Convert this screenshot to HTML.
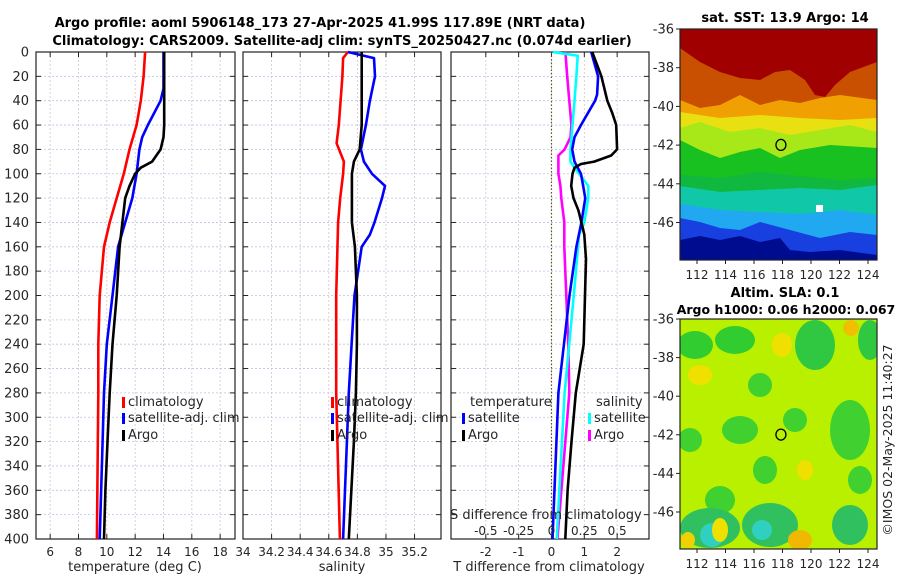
<!DOCTYPE html>
<html><head><meta charset="utf-8"><style>
body{margin:0;background:#fff;}
svg{display:block;font-family:"DejaVu Sans","Liberation Sans",sans-serif;}
</style></head><body>
<svg id="c" width="900" height="580" viewBox="0 0 900 580" xmlns="http://www.w3.org/2000/svg">
<text x="320" y="27" text-anchor="middle" font-weight="bold" font-size="13">Argo profile: aoml 5906148_173 27-Apr-2025 41.99S 117.89E (NRT data)</text>
<text x="342" y="45" text-anchor="middle" font-weight="bold" font-size="13">Climatology: CARS2009. Satellite-adj clim: synTS_20250427.nc (0.074d earlier)</text>
<g id="panels"></g>
<g id="maps"></g>
</svg>
<script>
// ---- data ----
const depthTicks=[0,20,40,60,80,100,120,140,160,180,200,220,240,260,280,300,320,340,360,380,400];
const tTicks=[6,8,10,12,14,16,18];
const sTicks=[34,34.2,34.4,34.6,34.8,35,35.2];
const sTickLabels=["34","34.2","34.4","34.6","34.8","35","35.2"];
const dTTicks=[-2,-1,0,1,2];
const dSTicks=[-0.5,-0.25,0,0.25,0.5];
const dSTickLabels=["-0.5","-0.25","0","0.25","0.5"];

const tClimDepth=[0,20,40,60,80,100,120,140,160,200,240,280,400];
const tClim=[12.7,12.6,12.4,12.1,11.6,11.2,10.7,10.2,9.8,9.5,9.4,9.4,9.3];
const tSatDepth=[0,30,40,60,70,80,100,120,140,160,200,240,280,320,400];
const tSat=[14.0,14.0,13.8,12.9,12.5,12.3,12.1,11.8,11.3,10.8,10.4,10.0,9.8,9.7,9.5];
const tArgoDepth=[0,20,60,70,80,90,95,100,110,120,140,160,200,240,280,320,360,400];
const tArgo=[14.05,14.05,14.05,14.0,13.8,13.2,12.4,12.0,11.6,11.3,11.1,10.9,10.7,10.4,10.2,10.05,9.9,9.8];

const sClimDepth=[0,5,20,40,60,75,90,100,120,140,200,280,400];
const sClim=[34.734,34.70,34.695,34.683,34.67,34.655,34.706,34.70,34.68,34.665,34.652,34.652,34.678];
const sSatDepth=[0,5,20,40,60,80,90,100,110,120,140,150,160,200,240,280,400];
const sSat=[34.734,34.916,34.923,34.888,34.86,34.825,34.846,34.902,34.993,34.972,34.92,34.888,34.83,34.78,34.76,34.74,34.70];
const sArgoDepth=[0,20,60,80,90,100,120,140,160,200,240,280,320,400];
const sArgo=[34.83,34.83,34.83,34.816,34.776,34.762,34.762,34.762,34.783,34.797,34.797,34.79,34.776,34.74];

const dTSatDepth=[0,20,35,40,60,70,80,90,100,120,140,160,200,280,400];
const dTSat=[1.21,1.42,1.39,1.33,0.9,0.7,0.63,0.7,0.9,1.03,0.91,0.76,0.55,0.21,0.03];
const dTArgoDepth=[0,20,40,50,60,80,85,90,92,95,100,110,120,130,140,150,170,200,240,280,320,360,400];
const dTArgo=[1.24,1.52,1.7,1.85,1.97,2.0,1.82,1.3,0.9,0.7,0.64,0.6,0.67,0.82,0.91,1.0,1.05,1.02,0.98,0.74,0.61,0.49,0.42];
const dSSatDepth=[0,3,20,40,60,80,90,95,110,120,140,150,200,280,400];
const dSSat=[0.01,0.2,0.19,0.175,0.16,0.145,0.145,0.175,0.28,0.28,0.25,0.21,0.17,0.1,0.04];
const dSArgoDepth=[0,20,40,60,70,80,85,90,100,110,120,140,160,200,240,280,400];
const dSArgo=[0.106,0.12,0.136,0.152,0.145,0.1,0.053,0.053,0.053,0.068,0.075,0.098,0.098,0.113,0.128,0.136,0.045];

// ---- helpers ----
const NS="http://www.w3.org/2000/svg";
const FS=13, TS=12;
function mk(tag,attrs,parent){const e=document.createElementNS(NS,tag);for(const k in attrs)e.setAttribute(k,attrs[k]);parent.appendChild(e);return e;}
const Y0=52,YB=539;
const y=d=>Y0+d*(YB-Y0)/400;
const P=document.getElementById('panels');

function panel(name,left,right,xmin,xmax){
  const g=mk('g',{},P);
  
  
  const sx=v=>left+(v-xmin)*(right-left)/(xmax-xmin);
  return {g,sx,left,right};
}
function gridAndFrame(p,ticks,labels,showY){
  for(const d of depthTicks){
    const gl=mk('line',{x1:p.left,x2:p.right,y1:y(d),y2:y(d),stroke:'#b8c4e8','stroke-width':0.8,'stroke-dasharray':'2,2'},p.g);
    
    
    mk('line',{x1:p.left,x2:p.left+5,y1:y(d),y2:y(d),stroke:'#222','stroke-width':1},p.g);
    mk('line',{x1:p.right-5,x2:p.right,y1:y(d),y2:y(d),stroke:'#222','stroke-width':1},p.g);
    if(showY){const t=mk('text',{x:p.left-7,y:y(d)+4.5,'text-anchor':'end','font-size':FS,fill:'#262626'},p.g);t.textContent=d;
      
      }
  }
  ticks.forEach((v,i)=>{
    const xx=p.sx(v);
    const gl=mk('line',{x1:xx,x2:xx,y1:Y0,y2:YB,stroke:'#d8c0c8','stroke-width':0.8,'stroke-dasharray':'2,2'},p.g);
    
    
    mk('line',{x1:xx,x2:xx,y1:YB-5,y2:YB,stroke:'#222','stroke-width':1},p.g);
    mk('line',{x1:xx,x2:xx,y1:Y0,y2:Y0+5,stroke:'#222','stroke-width':1},p.g);
    const t=mk('text',{x:xx,y:YB+17,'text-anchor':'middle','font-size':TS,fill:'#262626'},p.g);t.textContent=labels[i];
    
    
  });
  const r=mk('rect',{x:p.left,y:Y0,width:p.right-p.left,height:YB-Y0,fill:'none',stroke:'#222','stroke-width':1.2},p.g);
  
  
}
function line(p,depths,vals,color,name,sx){
  sx=sx||p.sx;
  const pts=depths.map((d,i)=>sx(vals[i]).toFixed(1)+','+y(d).toFixed(1)).join(' ');
  const pl=mk('polyline',{points:pts,fill:'none',stroke:color,'stroke-width':2.6,'stroke-linejoin':'round'},p.g);
  
  
}
function txt(p,x,yy,s,opts,name){
  const t=mk('text',Object.assign({x:x,y:yy,'font-size':FS,fill:'#262626'},opts||{}),p.g);t.textContent=s;
  
  
  return t;
}
function legendEntry(p,x,yy,color,label,name){
  const r=mk('rect',{x:x,y:yy-9,width:3,height:11,fill:color},p.g);
  
  
  txt(p,x+6,yy,label,{},name);
}

// panel 1 temperature
const p1=panel('temperature-panel',36,235,5,19.05);
gridAndFrame(p1,tTicks,tTicks.map(String),true);
line(p1,tClimDepth,tClim,'#ff0000','temp-climatology-line');
line(p1,tSatDepth,tSat,'#0000ff','temp-satellite-line');
line(p1,tArgoDepth,tArgo,'#000000','temp-argo-line');
legendEntry(p1,122,406,'#ff0000','climatology','legend-climatology');
legendEntry(p1,122,422,'#0000ff','satellite-adj. clim','legend-satellite');
legendEntry(p1,122,439,'#000000','Argo','legend-argo');
txt(p1,135,571,'temperature (deg C)',{'text-anchor':'middle'},'x-axis-title-temperature');

// panel 2 salinity
const p2=panel('salinity-panel',243,441,34,35.385);
gridAndFrame(p2,sTicks,sTickLabels,false);
line(p2,sClimDepth,sClim,'#ff0000','sal-climatology-line');
line(p2,sSatDepth,sSat,'#0000ff','sal-satellite-line');
line(p2,sArgoDepth,sArgo,'#000000','sal-argo-line');
legendEntry(p2,331,406,'#ff0000','climatology','legend-climatology');
legendEntry(p2,331,422,'#0000ff','satellite-adj. clim','legend-satellite');
legendEntry(p2,331,439,'#000000','Argo','legend-argo');
txt(p2,342,571,'salinity',{'text-anchor':'middle'},'x-axis-title-salinity');

// panel 3 differences
const p3=panel('difference-panel',451,649,-3.06,2.97);
gridAndFrame(p3,dTTicks,dTTicks.map(String),false);
const zl=mk('line',{x1:p3.sx(0),x2:p3.sx(0),y1:Y0,y2:YB,stroke:'#5a5a2a','stroke-width':1.2,'stroke-dasharray':'1.5,2'},p3.g);


const sxS=v=>p3.sx(v*4);
line(p3,dSArgoDepth,dSArgo,'#ff00ff','sal-diff-argo-line',sxS);
line(p3,dSSatDepth,dSSat,'#00ffff','sal-diff-satellite-line',sxS);
line(p3,dTSatDepth,dTSat,'#0000ff','temp-diff-satellite-line');
line(p3,dTArgoDepth,dTArgo,'#000000','temp-diff-argo-line');
txt(p3,470,406,'temperature',{},'legend-temperature-heading');
legendEntry(p3,462,422,'#0000ff','satellite','legend-temp-satellite');
legendEntry(p3,462,439,'#000000','Argo','legend-temp-argo');
txt(p3,596,406,'salinity',{},'legend-salinity-heading');
legendEntry(p3,588,422,'#00ffff','satellite','legend-sal-satellite');
legendEntry(p3,588,439,'#ff00ff','Argo','legend-sal-argo');
txt(p3,450,519,'S difference from climatology',{},'s-diff-axis-title');
dSTicks.forEach((v,i)=>txt(p3,sxS(v),535,dSTickLabels[i],{'text-anchor':'middle','font-size':TS},'s-diff-tick-label'));
txt(p3,549,571,'T difference from climatology',{'text-anchor':'middle'},'x-axis-title-t-diff');

// ---- maps ----
const M=document.getElementById('maps');
function mapFrame(name,top,bottom){
  const g=mk('g',{},M);
  
  
  const L=680,R=877;
  const cp=mk('clipPath',{id:name+'-clip'},g);
  mk('rect',{x:L,y:top,width:R-L,height:bottom-top},cp);
  const inner=mk('g',{'clip-path':'url(#'+name+'-clip)'},g);
  return {g,inner,L,R,top,bottom};
}
function mapAxes(m,latStep){
  const lats=[-36,-38,-40,-42,-44,-46];
  const lons=[112,114,116,118,120,122,124];
  const lx=lon=>697+(lon-112)*(868-697)/12;
  lats.forEach((la,i)=>{
    const yy=m.top+i*latStep;
    mk('line',{x1:m.L-4,x2:m.L,y1:yy,y2:yy,stroke:'#222'},m.g);
    const t=mk('text',{x:m.L-6,y:yy+4.5,'text-anchor':'end','font-size':FS,fill:'#262626'},m.g);t.textContent=la;
    
    
  });
  lons.forEach(lo=>{
    mk('line',{x1:lx(lo),x2:lx(lo),y1:m.bottom,y2:m.bottom+4,stroke:'#222'},m.g);
    const t=mk('text',{x:lx(lo),y:m.bottom+19,'text-anchor':'middle','font-size':TS,fill:'#262626'},m.g);t.textContent=lo;
    
    
  });
  const r=mk('rect',{x:m.L,y:m.top,width:m.R-m.L,height:m.bottom-m.top,fill:'none',stroke:'#222','stroke-width':1.2},m.g);
  
  
  const c=mk('ellipse',{cx:lx(117.89),cy:m.top+(41.99-36)/2*latStep,rx:5,ry:5.5,fill:'none',stroke:'#000','stroke-width':1.3},m.g);
  
  
}
// SST map
const m1=mapFrame('sst-map',29,260);
const bands=[
 ['#a00000',[]],
 ['#c85000',[[680,48],[700,62],[720,72],[740,78],[760,80],[775,72],[790,70],[805,80],[815,95],[825,97],[835,85],[850,72],[877,62]]],
 ['#f0a000',[[680,100],[700,108],[720,105],[740,95],[760,105],[780,100],[800,103],[820,98],[840,95],[877,100]]],
 ['#e8e010',[[680,112],[720,118],[760,115],[800,118],[840,120],[877,118]]],
 ['#a8e818',[[680,128],[700,122],[730,132],[760,128],[790,135],[820,130],[850,125],[877,132]]],
 ['#18c020',[[680,140],[700,150],[720,158],[740,152],[760,148],[780,158],[800,150],[830,145],[877,148]]],
 ['#10b840',[[680,175],[720,178],[760,172],[800,176],[840,180],[877,178]]],
 ['#10c8a8',[[680,186],[720,192],[760,190],[800,188],[840,190],[877,185]]],
 ['#20a8f0',[[680,204],[720,210],[760,212],[800,214],[840,210],[877,215]]],
 ['#1840e0',[[680,218],[700,222],[720,228],[740,230],[760,222],[790,230],[820,238],[850,232],[877,235]]],
 ['#000c90',[[680,240],[700,236],[720,240],[740,236],[760,242],[780,238],[790,250],[810,252],[840,250],[877,255]]]
];
bands.forEach(([col,edge],i)=>{
  let el;
  if(i===0){el=mk('rect',{x:680,y:29,width:197,height:231,fill:col},m1.inner);}
  else{const pts=edge.map(p=>p.join(',')).join(' ')+' 877,262 680,262';
    el=mk('polygon',{points:pts,fill:col},m1.inner);}
  
  
});
const wh=mk('rect',{x:816,y:205,width:7,height:7,fill:'#fff'},m1.inner);


mapAxes(m1,38.7);
const t1=mk('text',{x:785,y:22,'text-anchor':'middle','font-size':13,'font-weight':'bold'},m1.g);t1.textContent='sat. SST: 13.9 Argo: 14';



// SLA map
const m2=mapFrame('sla-map',319,549);
mk('rect',{x:680,y:319,width:197,height:230,fill:'#b8f000'},m2.inner);
const blobs=[
 ['#30cc30',695,345,18,14],['#30cc30',735,340,20,14],['#30c840',815,345,20,25],['#30c840',870,340,12,20],
 ['#40d030',760,385,12,12],['#40d030',740,430,18,14],['#40d030',795,420,12,12],['#40d030',850,430,20,30],
 ['#40d030',690,440,12,12],['#40d030',765,470,12,14],['#40d030',720,500,15,14],['#40d030',860,480,12,14],
 ['#30c060',710,528,30,20],['#30c060',770,525,28,22],['#30c060',850,525,18,20],
 ['#30d0c0',712,535,12,12],['#30d0c0',762,530,10,10],
 ['#f0e000',782,345,10,12],['#f0e000',700,375,12,10],['#f0e000',805,470,8,10],['#f0e000',720,530,8,12],
 ['#f0c000',851,328,8,8],['#f0b800',800,540,12,10],['#f0d000',688,540,7,8]
];
blobs.forEach(([col,cx,cy,rx,ry])=>{
  const e=mk('ellipse',{cx,cy,rx,ry,fill:col},m2.inner);
  
  
});
mapAxes(m2,38.6);
const t2=mk('text',{x:785,y:297,'text-anchor':'middle','font-size':13,'font-weight':'bold'},m2.g);t2.textContent='Altim. SLA: 0.1';


const t3=mk('text',{x:786,y:314,'text-anchor':'middle','font-size':12.5,'font-weight':'bold'},m2.g);t3.textContent='Argo h1000: 0.06 h2000: 0.067';


const cr=mk('text',{x:0,y:0,'text-anchor':'middle','font-size':12.5,fill:'#262626',transform:'translate(892,440) rotate(-90)'},M);cr.textContent='©IMOS 02-May-2025 11:40:27';


</script>
</body></html>
